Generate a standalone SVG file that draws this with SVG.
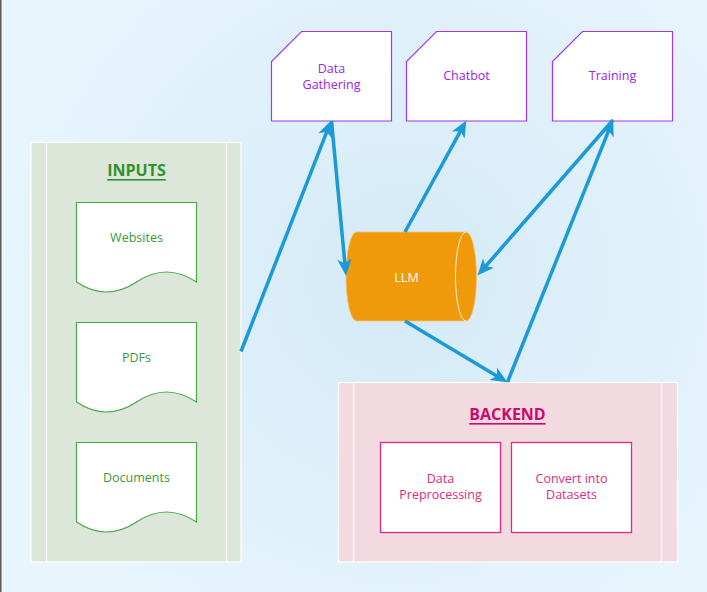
<svg xmlns="http://www.w3.org/2000/svg" width="707" height="592" viewBox="0 0 707 592">
<defs>
<radialGradient id="bg" cx="400" cy="280" r="420" gradientUnits="userSpaceOnUse">
<stop offset="0" stop-color="#d4eaf7"/>
<stop offset="1" stop-color="#e8f5fd"/>
</radialGradient>
<marker id="ah" markerUnits="userSpaceOnUse" markerWidth="20" markerHeight="20" viewBox="-10 -8 18 16" refX="0" refY="0" orient="auto">
<path d="M6,0 L-9,-6.5 L-5,0 L-9,6.5 Z" fill="#1a9bd7"/>
</marker>
<style>
text{font-family:"Open Sans","Noto Sans","Liberation Sans",sans-serif;font-size:12.5px;text-anchor:middle;dominant-baseline:central}
.top{fill:#fff;stroke:#a334ef;stroke-width:1.2}
.toptx{fill:#9e22ec}
.cont{stroke:#fff;stroke-width:1.2}
.doc{fill:#fff;stroke:#4aa84a;stroke-width:1.2}
.doctx{fill:#3a9a3a}
.bbox{fill:#fff;stroke:#df2a85;stroke-width:1.3}
.btx{fill:#de2a80}
.title{font-size:16px;font-weight:bold;text-decoration:underline}
.conn{stroke:#1a9bd7;stroke-width:3.5;fill:none;marker-end:url(#ah)}
</style>
</defs>
<rect x="0" y="0" width="707" height="592" fill="url(#bg)"/>
<rect x="0" y="0" width="1.5" height="592" fill="#5a5a5a"/>

<g id="inputs">
<rect class="cont" x="31" y="142.5" width="210" height="419.5" fill="#dce6d9"/>
<line x1="46.5" y1="142.5" x2="46.5" y2="562" stroke="#fff" stroke-width="1.2"/>
<line x1="226.5" y1="142.5" x2="226.5" y2="562" stroke="#fff" stroke-width="1.2"/>
<text class="title" x="136.5" y="170" fill="#2e922e">INPUTS</text>
</g>
<g id="websites">
<path class="doc" d="M76.5,202.5 H196.5 V282 Q166.5,262 136.5,282 Q106.5,302 76.5,282 Z"/>
<text class="doctx" x="136.5" y="237">Websites</text>
</g>
<g id="pdfs">
<path class="doc" d="M76.5,322.5 H196.5 V402 Q166.5,382 136.5,402 Q106.5,422 76.5,402 Z"/>
<text class="doctx" x="136.5" y="357">PDFs</text>
</g>
<g id="documents">
<path class="doc" d="M76.5,442.5 H196.5 V522 Q166.5,502 136.5,522 Q106.5,542 76.5,522 Z"/>
<text class="doctx" x="136.5" y="477">Documents</text>
</g>

<g id="backend">
<rect class="cont" x="338.5" y="382.5" width="339" height="179.5" fill="#f3d9e0"/>
<line x1="353.5" y1="382.5" x2="353.5" y2="562" stroke="#fff" stroke-width="1.2"/>
<line x1="661.5" y1="382.5" x2="661.5" y2="562" stroke="#fff" stroke-width="1.2"/>
<text class="title" x="507.5" y="414" fill="#cc0a6e">BACKEND</text>
</g>
<g id="data-preprocessing">
<rect class="bbox" x="380.5" y="442.5" width="120" height="90"/>
<text class="btx" x="440.5" y="478.5">Data</text>
<text class="btx" x="440.5" y="494.5">Preprocessing</text>
</g>
<g id="convert-datasets">
<rect class="bbox" x="511.5" y="442.5" width="120" height="90"/>
<text class="btx" x="571.5" y="478.5">Convert into</text>
<text class="btx" x="571.5" y="494.5">Datasets</text>
</g>

<g id="data-gathering">
<path class="top" d="M301.5,31.5 H391.5 V121 H271.5 V61.5 Z"/>
<text class="toptx" x="331.5" y="68">Data</text>
<text class="toptx" x="331.5" y="84">Gathering</text>
</g>
<g id="chatbot">
<path class="top" d="M436.5,31.5 H526.5 V121 H406.5 V61.5 Z"/>
<text class="toptx" x="466.5" y="75.5">Chatbot</text>
</g>
<g id="training">
<path class="top" d="M582.5,31.5 H672.5 V121 H552.5 V61.5 Z"/>
<text class="toptx" x="612.5" y="75.5">Training</text>
</g>

<g id="llm">
<path d="M356.5,232 H466 A10.5,44.5 0 0 1 466,321 H356.5 A10.5,44.5 0 0 1 356.5,232 Z" fill="#f0990a" stroke="#f5c070" stroke-width="0.8"/>
<path d="M466,232 A10.5,44.5 0 0 0 466,321" fill="none" stroke="#fff3dc" stroke-width="1"/>
<text x="406.5" y="277" fill="#fff">LLM</text>
</g>

<g id="connectors">
<line class="conn" x1="241" y1="351.5" x2="328.8" y2="126.6"/>
<line class="conn" x1="331.5" y1="121" x2="345.4" y2="269"/>
<line class="conn" x1="405" y1="232" x2="463.1" y2="126.3"/>
<line class="conn" x1="405" y1="321" x2="501.8" y2="378.9"/>
<line class="conn" x1="507.5" y1="382" x2="610.7" y2="125.6"/>
<line class="conn" x1="613" y1="120" x2="481.9" y2="270.5"/>
</g>
</svg>
